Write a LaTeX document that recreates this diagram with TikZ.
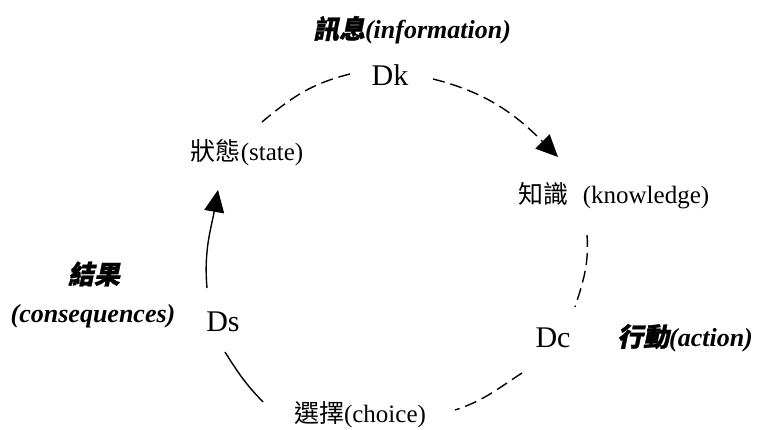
\documentclass[tikz,border=0pt]{standalone}
\usepackage{fontspec}
\setmainfont{Liberation Serif}
\newfontfamily\cjk{Noto Sans CJK TC}
\newfontfamily\cjkbi[FakeSlant=0.2,FakeBold=1]{Noto Sans CJK TC}
\usetikzlibrary{arrows.meta}

\tikzset{
  lbl/.style={inner sep=0pt, font=\fontsize{25}{30}\selectfont},
  lblbi/.style={inner sep=0pt, font=\fontsize{26}{31}\selectfont\bfseries\itshape},
  dnode/.style={inner sep=0pt, font=\fontsize{30}{36}\selectfont},
  cyc/.style={line width=1.4pt},
  cycdash/.style={cyc, dash pattern=on 12pt off 6pt},
  cyctip/.style={-{Triangle[length=22pt,width=20pt]}},
}

\begin{document}
\begin{tikzpicture}[x=1pt,y=1pt]
    \useasboundingbox (0,0) rectangle (762,429);

    % D nodes on the cycle
    \node[dnode] (dk) at (390,354) {Dk};
    \node[dnode] (dc) at (553,91) {Dc};
    \node[dnode] (ds) at (223,107) {Ds};

    % states
    \node[lbl] (state)  at (247,276) {{\cjk 狀態}(state)};
    \node[lbl] (know)   at (614,233) {{\cjk 知識}\hspace{14pt}(knowledge)};
    \node[lbl] (choice) at (360,14)  {{\cjk 選擇}(choice)};

    % process labels
    \node[lblbi] (info)   at (412,399) {{\cjkbi 訊息}(information)};
    \node[lblbi] (action) at (685,91)  {{\cjkbi 行動}(action)};
    \node[lblbi] (result) at (94,155)  {{\cjkbi 結果}};
    \node[lblbi] (conseq) at (93,113)  {(consequences)};

    % free ends of the arcs
    \coordinate (dkL) at ([shift={(-40,1)}]dk.center);
    \coordinate (dkR) at ([shift={(43,-4)}]dk.center);
    \coordinate (knT) at ([shift={(-56,39)}]know.center);
    \coordinate (knB) at ([shift={(-27,-39)}]know.center);
    \coordinate (dcT) at ([shift={(22,31)}]dc.center);
    \coordinate (dcB) at ([shift={(-31,-35)}]dc.center);
    \coordinate (chR) at ([shift={(95,5)}]choice.center);
    \coordinate (chL) at ([shift={(-97,13)}]choice.center);
    \coordinate (dsB) at ([shift={(2,-30)}]ds.center);
    \coordinate (dsT) at ([shift={(-16,34)}]ds.center);
    \coordinate (stB) at ([shift={(-29,-37)}]state.center);
    \coordinate (stT) at ([shift={(15,31)}]state.center);

    % top arcs
    \draw[cycdash] (dkL) to[out=194,in=40] (stT);
    \draw[cycdash,cyctip] (dkR) to[out=-14,in=135] (knT);

    % right arcs
    \draw[cycdash] (knB) to[out=-86,in=72] (dcT);
    \draw[cycdash] (dcB) to[out=213,in=18] (chR);

    % left arcs
    \draw[cyc] (chL) to[out=134,in=-58] (dsB);
    \draw[cyc,cyctip] (dsT) to[out=95,in=260] (stB);
\end{tikzpicture}
\end{document}
